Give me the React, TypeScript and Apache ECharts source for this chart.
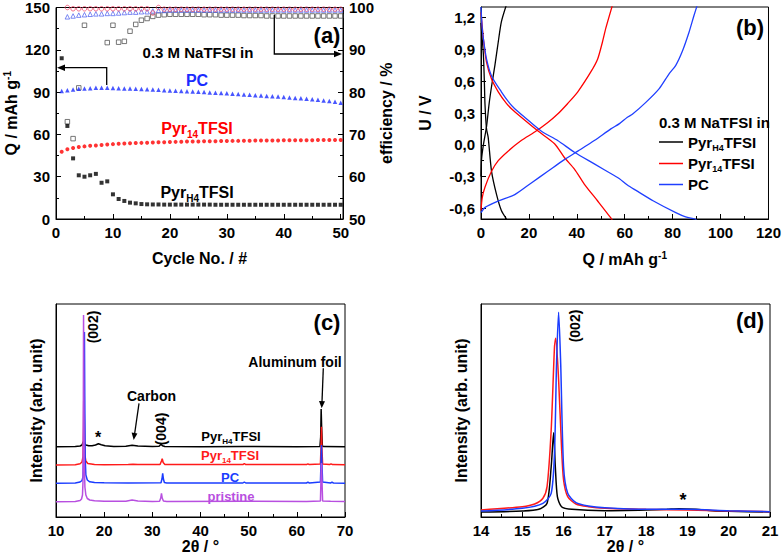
import React, { useEffect, useRef } from 'react';
import * as echarts from 'echarts';

const FONT = '"Liberation Sans", Arial, sans-serif';

// ---------- Panel (a): capacity & efficiency vs cycle ----------
const cycles = [1, 2, 3, 4, 5, 6, 7, 8, 9, 10, 11, 12, 13, 14, 15, 16, 17, 18, 19, 20, 21, 22, 23, 24, 25, 26, 27, 28, 29, 30, 31, 32, 33, 34, 35, 36, 37, 38, 39, 40, 41, 42, 43, 44, 45, 46, 47, 48, 49, 50];
const capPyrH4 = [114, 66, 43, 31, 30, 31, 32, 25.7, 26.7, 17.5, 14.2, 12.8, 11.6, 11.1, 10.6, 10.4, 10.3, 10.3, 10.2, 10.2, 10.2, 10.2, 10.2, 10.2, 10.2, 10.2, 10.2, 10.1, 10.1, 10.1, 10.1, 10.1, 10.1, 10.1, 10.1, 10.1, 10.1, 10.1, 10.1, 10.1, 10.1, 10.1, 10.1, 10.1, 10.1, 10.1, 10.1, 10.1, 10.1, 10.1];
const capPyr14 = [47.7, 49.5, 50.4, 51.0, 51.5, 51.9, 52.2, 52.5, 52.8, 53.1, 53.3, 53.5, 53.7, 53.9, 54.0, 54.1, 54.3, 54.4, 54.5, 54.6, 54.7, 54.8, 54.9, 55.0, 55.0, 55.1, 55.2, 55.2, 55.3, 55.3, 55.4, 55.4, 55.5, 55.5, 55.6, 55.6, 55.6, 55.7, 55.7, 55.8, 55.8, 55.8, 55.9, 55.9, 55.9, 56.0, 56.0, 56.0, 56.0, 56.0];
const capPC = [90.7, 91.3, 91.8, 92.3, 92.6, 92.8, 93.0, 93.1, 93.0, 92.9, 92.8, 92.6, 92.5, 92.3, 92.2, 92.0, 91.8, 91.6, 91.4, 91.2, 91.0, 90.8, 90.6, 90.4, 90.2, 90.0, 89.8, 89.6, 89.3, 89.1, 88.8, 88.6, 88.3, 88.1, 87.8, 87.6, 87.3, 87.1, 86.8, 86.5, 86.2, 85.9, 85.6, 85.3, 84.9, 84.5, 84.1, 83.6, 83.1, 82.5];
const effPyrH4 = [null, 73, 69, 81, 95.8, null, null, null, 91.7, 95.8, 91.8, 92.0, 94.4, 96.0, 97.0, 97.4, 97.9, 98.2, 98.3, 98.4, 98.4, 98.4, 98.4, 98.4, 98.4, 98.3, 98.3, 98.3, 98.2, 98.2, 98.2, 98.2, 98.1, 98.1, 98.1, 98.1, 98.0, 98.0, 98.0, 98.0, 98.0, 98.0, 98.0, 98.0, 98.0, 98.0, 98.0, 98.0, 98.0, 98.0];
const effPyr14 = [null, 100, 99.7, 99.7, 99.7, 99.7, 99.7, 99.7, 99.7, 99.7, 99.7, 99.7, 99.7, 99.7, 99.7, 99.7, 98.7, 100, 99.6, 99.6, 99.6, 99.6, 99.6, 99.6, 99.6, 99.6, 99.6, 99.6, 99.6, 99.6, 99.6, 99.6, 99.6, 99.6, 99.6, 99.6, 99.6, 99.6, 99.6, 99.6, 99.6, 99.6, 99.6, 99.6, 99.6, 99.6, 99.6, 99.6, 99.6, 99.6];
const effPC = [null, 97.8, 98.0, 98.2, 98.3, 98.4, 98.5, 98.5, 98.6, 98.6, 98.7, 98.8, 98.9, 98.9, 99.0, 99.0, 99.2, 99.3, 99.3, 99.4, 99.4, 99.4, 99.4, 99.4, 99.4, 99.4, 99.4, 99.4, 99.4, 99.4, 99.4, 99.4, 99.4, 99.4, 99.4, 99.4, 99.4, 99.4, 99.4, 99.4, 99.4, 99.4, 99.4, 99.4, 99.4, 99.4, 99.4, 99.4, 99.4, 99.4];

// ---------- Panel (b): voltage profiles [Q, U] ----------
const pyrH4Charge = [[0, -0.3], [0.25, -0.13], [1.0, 0.0], [2.3, 0.17], [3.4, 0.39], [4.4, 0.55], [5.8, 0.75], [7.2, 0.97], [8.5, 1.16], [10.6, 1.32]];
const pyrH4Discharge = [[0, 1.15], [0.5, 1.0], [1.0, 0.85], [1.4, 0.6], [1.65, 0.39], [2.3, 0.15], [3.0, 0.07], [4.4, -0.25], [6.5, -0.47], [8.5, -0.62], [10.6, -0.7], [11, -0.72]];
const pyr14Charge = [[0, -0.62], [0.5, -0.5], [1.65, -0.4], [4.4, -0.25], [7.2, -0.15], [11.3, -0.06], [16.8, 0.04], [22.4, 0.12], [27.9, 0.21], [32, 0.29], [36.2, 0.39], [40.4, 0.5], [45.9, 0.69], [48.7, 0.81], [50.7, 0.97], [52.1, 1.1], [54.9, 1.32]];
const pyr14Discharge = [[0, 1.25], [0.5, 1.12], [1.0, 1.0], [2.3, 0.78], [4.4, 0.62], [7.2, 0.5], [10.6, 0.39], [12.7, 0.34], [16.8, 0.26], [23.8, 0.13], [30.7, 0.01], [34.8, -0.12], [39, -0.23], [43.1, -0.37], [48.7, -0.53], [54.2, -0.69], [55, -0.72]];
const pcCharge = [[0, -0.64], [1.7, -0.59], [7.2, -0.53], [14.1, -0.47], [21, -0.36], [27.9, -0.25], [34.8, -0.14], [40.4, -0.06], [47.3, 0.04], [54.2, 0.15], [57.8, 0.2], [61.1, 0.26], [63.3, 0.29], [68.8, 0.4], [74.4, 0.53], [78.5, 0.67], [81.3, 0.75], [84, 0.88], [86.8, 1.06], [88.9, 1.22], [90.3, 1.32]];
const pcDischarge = [[0, 1.3], [0.5, 1.1], [1.0, 1.0], [2.3, 0.81], [4.4, 0.65], [8.5, 0.5], [12, 0.39], [14.1, 0.34], [18.2, 0.26], [25.1, 0.13], [32, 0.04], [39, -0.07], [47.3, -0.18], [55.6, -0.29], [57.8, -0.32], [61.1, -0.38], [64.7, -0.43], [72, -0.53], [81.3, -0.64], [85.4, -0.68], [89.3, -0.7], [90, -0.71]];
const uTicks = [-0.6, -0.3, 0, 0.3, 0.6, 0.9, 1.2];
const uMinorTicks = [-0.45, -0.15, 0.15, 0.45, 0.75, 1.05];

// ---------- Panel (c): XRD patterns (offset, arb. units) [2θ, I] ----------
const xrdPyrH4 = [[10, 70.3], [14, 70.5], [15, 71], [15.4, 72], [15.6, 74.5], [15.75, 75.5], [15.9, 73.5], [16.2, 72], [16.8, 71.2], [17.5, 71.3], [18.2, 72], [18.8, 73.3], [19.4, 72.3], [20.2, 71.2], [22, 70.6], [24.5, 70.8], [25.8, 71.8], [27, 71], [30, 70.5], [31.4, 70.8], [31.8, 72.8], [32.1, 71.2], [32.6, 70.5], [40, 70.3], [49, 70.5], [60, 70.3], [64.8, 70.4], [64.95, 80], [65.05, 108], [65.15, 90], [65.3, 71], [65.6, 70.4], [70, 70.3]];
const xrdPyr14 = [[10, 52], [14, 52.3], [15, 53.3], [15.4, 55], [15.6, 60], [15.72, 90], [15.8, 150], [15.88, 100], [16, 62], [16.2, 56], [16.6, 53.5], [18, 52.6], [20, 52.3], [25, 52.4], [26, 52.8], [27, 52.4], [31.6, 52.5], [31.9, 56], [32.05, 58.3], [32.25, 54.5], [32.6, 52.5], [48.8, 52.4], [49.1, 53.5], [49.4, 52.4], [62, 52.4], [62.3, 53.2], [62.6, 52.4], [64.9, 53], [65.05, 75], [65.12, 90.3], [65.2, 70], [65.35, 53], [66.8, 52.4], [67.1, 53.2], [67.4, 52.4], [70, 52.2]];
const xrdPC = [[10, 33.7], [14, 34], [15, 35], [15.4, 36.5], [15.6, 40], [15.75, 60], [15.85, 150], [15.9, 185], [15.97, 120], [16.05, 60], [16.2, 42], [16.5, 37], [17, 35.2], [18, 34.5], [20, 34.2], [25, 34], [31.8, 34.2], [32.0, 38], [32.15, 43.7], [32.3, 38], [32.5, 34.5], [33, 34], [48.8, 34], [49.1, 35], [49.4, 34], [62, 34], [62.3, 34.8], [62.6, 34], [64.9, 35], [65.05, 60], [65.12, 72], [65.2, 55], [65.35, 35], [67, 34], [67.3, 34.8], [67.6, 34], [70, 33.8]];
const xrdPristine = [[10, 15.3], [14, 15.6], [15, 16.5], [15.3, 18], [15.5, 22], [15.6, 35], [15.68, 120], [15.72, 202], [15.78, 130], [15.85, 60], [16, 30], [16.2, 22], [16.5, 18.5], [17, 17], [18, 16.2], [20, 15.8], [24.5, 15.8], [25.8, 17], [27, 16], [30, 15.6], [31.5, 15.7], [31.75, 19], [31.9, 23.7], [32.05, 19], [32.3, 16], [33, 15.5], [49, 15.8], [62, 15.5], [64.9, 16], [65.05, 45], [65.12, 54], [65.2, 40], [65.35, 16], [67, 15.7], [70, 15.5]];

// ---------- Panel (d): zoom on (002) [2θ, I] ----------
const zoomPyrH4 = [[14, 5], [15, 6], [15.4, 7.7], [15.6, 13.7], [15.7, 50.3], [15.76, 84.3], [15.8, 50.3], [15.85, 20.3], [15.95, 10.3], [16.2, 7.7], [17, 6.3], [18, 7], [18.5, 7.7], [18.8, 8.3], [19.2, 7.7], [19.6, 6.3], [20, 5.7], [21, 5]];
const zoomPyr14 = [[14, 7], [15, 10.3], [15.3, 13], [15.5, 18.7], [15.6, 30.3], [15.7, 87], [15.78, 170], [15.81, 178.7], [15.88, 137], [15.95, 70], [16.0, 37], [16.1, 20.3], [16.3, 13], [16.6, 10.3], [17, 8.7], [18, 7.7], [19, 7], [20, 6], [21, 5.3]];
const zoomPC = [[14, 6], [15, 8.7], [15.5, 13.7], [15.7, 23.7], [15.78, 63.7], [15.83, 153.7], [15.88, 204.7], [15.93, 153.7], [16.0, 50.3], [16.1, 23.7], [16.3, 14.3], [16.6, 11], [17, 9.3], [18, 7.7], [19, 7.7], [20, 6.3], [21, 5.3]];

const pair = (xs: number[], ys: (number | null)[]) =>
  xs.map((x, i) => [x, ys[i]]).filter((p) => p[1] !== null);

const labelStyle = { color: '#000', fontSize: 15, fontWeight: 'bold', fontFamily: FONT, margin: 6 };
const nameStyle = {
  color: '#000', fontSize: 16, fontWeight: 'bold', fontFamily: FONT,
  rich: { sup: { color: '#000', fontSize: 10, fontWeight: 'bold', fontFamily: FONT, padding: [0, 0, 9, 0] } },
};
const axisBase = {
  axisLine: { show: true, onZero: false, lineStyle: { color: '#000', width: 1 } },
  axisTick: { show: true, inside: true, length: 5, lineStyle: { color: '#000', width: 1 } },
  minorTick: { show: true, splitNumber: 2, length: 3, lineStyle: { color: '#000', width: 1 } },
  splitLine: { show: false },
  minorSplitLine: { show: false },
  axisLabel: labelStyle,
  nameTextStyle: nameStyle,
  nameLocation: 'middle',
};

function label(x: number, y: number, text: string, size: number, color: string, rotation = 0, align = 'center') {
  return {
    type: 'text', x, y, rotation, z: 100,
    style: {
      text, fill: color, fontSize: size, fontWeight: 'bold', fontFamily: FONT, align, verticalAlign: 'middle',
      rich: {
        s: { fill: color, fontSize: Math.round(size * 0.62), fontWeight: 'bold', fontFamily: FONT, padding: [Math.round(size * 0.75), 0, 0, 0] },
      },
    },
  };
}
function polyline(points: number[][]) {
  return { type: 'polyline', z: 100, shape: { points }, style: { stroke: '#000', lineWidth: 1.3, fill: 'none' } };
}
function head(points: number[][]) {
  return { type: 'polygon', z: 100, shape: { points }, style: { fill: '#000' } };
}
function legendLine(y: number, color: string) {
  return { type: 'line', z: 100, shape: { x1: 659, y1: y, x2: 683, y2: y }, style: { stroke: color, lineWidth: 1.5 } };
}

export default function App() {
  const ref = useRef<HTMLDivElement>(null);
  useEffect(() => {
    if (!ref.current) return;
    const chart = echarts.init(ref.current, null, { renderer: 'svg' });
    const lineS = (data: number[][], color: string, x: number, y: number, w = 1.3) => ({
      type: 'line', data, xAxisIndex: x, yAxisIndex: y, showSymbol: false, symbol: 'none',
      smooth: 0.25, lineStyle: { color, width: w }, itemStyle: { color }, clip: true,
    });
    const scat = (data: any[], symbol: string, size: number, color: string, hollow: boolean, yIdx: number) => ({
      type: 'scatter', data, xAxisIndex: 0, yAxisIndex: yIdx, symbol, symbolSize: size,
      itemStyle: hollow ? { color: 'rgba(0,0,0,0)', borderColor: color, borderWidth: 1 } : { color },
    });
    const option: any = {
      animation: false,
      textStyle: { fontFamily: FONT },
      grid: [
        { left: 56, top: 7, width: 287, height: 212, show: true, borderColor: '#000', borderWidth: 1, backgroundColor: 'transparent' },
        { left: 481, top: 7, width: 289, height: 212, show: true, borderColor: '#000', borderWidth: 1, backgroundColor: 'transparent' },
        { left: 56, top: 304, width: 289, height: 213, show: true, borderColor: '#000', borderWidth: 1, backgroundColor: 'transparent' },
        { left: 481, top: 304, width: 289, height: 213, show: true, borderColor: '#000', borderWidth: 1, backgroundColor: 'transparent' },
      ],
      xAxis: [
        { ...axisBase, type: 'value', gridIndex: 0, min: 0, max: 50.4, interval: 10, name: 'Cycle No. / #', nameGap: 31,
          axisLabel: { ...labelStyle, formatter: (v: number) => (v % 10 === 0 ? String(v) : '') } },
        { ...axisBase, type: 'value', gridIndex: 1, min: 0, max: 120, interval: 20, name: 'Q / mAh g{sup|-1}', nameGap: 31 },
        { ...axisBase, type: 'value', gridIndex: 2, min: 10, max: 70, interval: 10, name: '2θ / °', nameGap: 21 },
        { ...axisBase, type: 'value', gridIndex: 3, min: 14, max: 21, interval: 1, name: '2θ / °', nameGap: 21 },
      ],
      yAxis: [
        { ...axisBase, type: 'value', gridIndex: 0, min: 0, max: 150, interval: 30, name: 'Q / mAh g{sup|-1}', nameRotate: 90, nameGap: 35 },
        { ...axisBase, type: 'value', gridIndex: 0, position: 'right', min: 50, max: 100, interval: 10, name: 'efficiency / %', nameRotate: 90, nameGap: 35 },
        { ...axisBase, type: 'value', gridIndex: 1, min: -0.7, max: 1.3, name: 'U / V', nameRotate: 90, nameGap: 48,
          minorTick: { show: false },
          axisTick: { ...axisBase.axisTick, customValues: uTicks },
          axisLabel: { ...labelStyle, customValues: uTicks, formatter: (v: number) => v.toFixed(1).replace('.', ',').replace('-0,0', '0,0') } },
        { type: 'value', gridIndex: 1, min: -0.7, max: 1.3, position: 'left',
          axisLine: { show: false }, axisLabel: { show: false }, splitLine: { show: false },
          axisTick: { show: true, inside: true, length: 3, customValues: uMinorTicks, lineStyle: { color: '#000' } } },
        { ...axisBase, type: 'value', gridIndex: 2, min: 0, max: 213, name: 'Intensity (arb. unit)', nameRotate: 90, nameGap: 12,
          axisTick: { show: false }, minorTick: { show: false }, axisLabel: { show: false } },
        { ...axisBase, type: 'value', gridIndex: 3, min: 0, max: 213, name: 'Intensity (arb. unit)', nameRotate: 90, nameGap: 12,
          axisTick: { show: false }, minorTick: { show: false }, axisLabel: { show: false } },
      ],
      series: [
        scat(pair(cycles, effPyrH4), 'rect', 4.5, '#555555', true, 1),
        scat(pair(cycles, effPC), 'triangle', 4.5, '#5a6cf0', true, 1),
        scat(pair(cycles, effPyr14), 'circle', 4.5, '#f04a6a', true, 1),
        scat(pair(cycles, capPyrH4), 'rect', 4, '#000000', false, 0),
        scat(pair(cycles, capPyr14), 'circle', 4, '#ff0000', false, 0),
        scat(pair(cycles, capPC), 'triangle', 4.5, '#1a2cff', false, 0),
        lineS(pyrH4Charge, '#000000', 1, 2),
        lineS(pyrH4Discharge, '#000000', 1, 2),
        lineS(pyr14Charge, '#ff0000', 1, 2),
        lineS(pyr14Discharge, '#ff0000', 1, 2),
        lineS(pcCharge, '#1f3fff', 1, 2),
        lineS(pcDischarge, '#1f3fff', 1, 2),
        { ...lineS(xrdPyrH4, '#000000', 2, 4, 1.5), smooth: false },
        { ...lineS(xrdPyr14, '#ff1a1a', 2, 4, 1.5), smooth: false },
        { ...lineS(xrdPC, '#1a3cff', 2, 4, 1.5), smooth: false },
        { ...lineS(xrdPristine, '#b84fe0', 2, 4, 1.5), smooth: false },
        lineS(zoomPyrH4, '#000000', 3, 5, 1.5),
        lineS(zoomPyr14, '#ff1a1a', 3, 5, 1.5),
        lineS(zoomPC, '#1a3cff', 3, 5, 1.5),
      ],
      graphic: [
        // panel (a)
        label(198, 52, '0.3 M NaTFSI in', 15, '#000'),
        label(197, 80, 'PC', 16, '#1a2cff'),
        label(197, 128, 'Pyr{s|14}TFSI', 16, '#ff0000'),
        label(197, 192, 'Pyr{s|H4}TFSI', 16, '#000'),
        label(327, 35, '(a)', 22, '#000'),
        polyline([[106.7, 85], [106.7, 67.7], [63, 67.7]]),
        head([[57, 67.7], [65, 64.5], [65, 70.9]]),
        polyline([[274.3, 15], [274.3, 54], [336, 54]]),
        head([[342, 54], [334, 50.8], [334, 57.2]]),
        // panel (b)
        label(750, 27, '(b)', 22, '#000'),
        label(659, 122, '0.3 M NaTFSI in', 15, '#000', 0, 'left'),
        legendLine(142, '#000000'),
        legendLine(163.5, '#ff0000'),
        legendLine(184.5, '#1f3fff'),
        label(688, 142, 'Pyr{s|H4}TFSI', 15, '#000', 0, 'left'),
        label(688, 163.5, 'Pyr{s|14}TFSI', 15, '#000', 0, 'left'),
        label(688, 184.5, 'PC', 15, '#000', 0, 'left'),
        // panel (c)
        label(327, 322, '(c)', 22, '#000'),
        label(93.3, 327, '(002)', 14, '#000', Math.PI / 2),
        label(98, 437, '*', 16, '#000'),
        label(151.5, 396, 'Carbon', 14, '#000'),
        polyline([[139, 403.3], [134.6, 434]]),
        head([[133.7, 440], [137.4, 433.4], [131.6, 432.6]]),
        label(161, 429, '(004)', 14, '#000', Math.PI / 2),
        label(295, 362, 'Aluminum foil', 14, '#000'),
        polyline([[323.3, 368.3], [322, 402]]),
        head([[321.7, 408.3], [325, 401.3], [319, 401.1]]),
        label(231, 436, 'Pyr{s|H4}TFSI', 13, '#000'),
        label(230, 455, 'Pyr{s|14}TFSI', 13, '#ff1a1a'),
        label(230, 477, 'PC', 13, '#1a3cff'),
        label(231, 496, 'pristine', 13, '#b84fe0'),
        // panel (d)
        label(750, 320, '(d)', 22, '#000'),
        label(575, 326, '(002)', 14, '#000', Math.PI / 2),
        label(683, 500, '*', 18, '#000'),
      ],
    };
    chart.setOption(option);
    return () => chart.dispose();
  }, []);
  return <div ref={ref} style={{ position: 'absolute', left: 0, top: 0, width: 784, height: 558 }} />;
}
